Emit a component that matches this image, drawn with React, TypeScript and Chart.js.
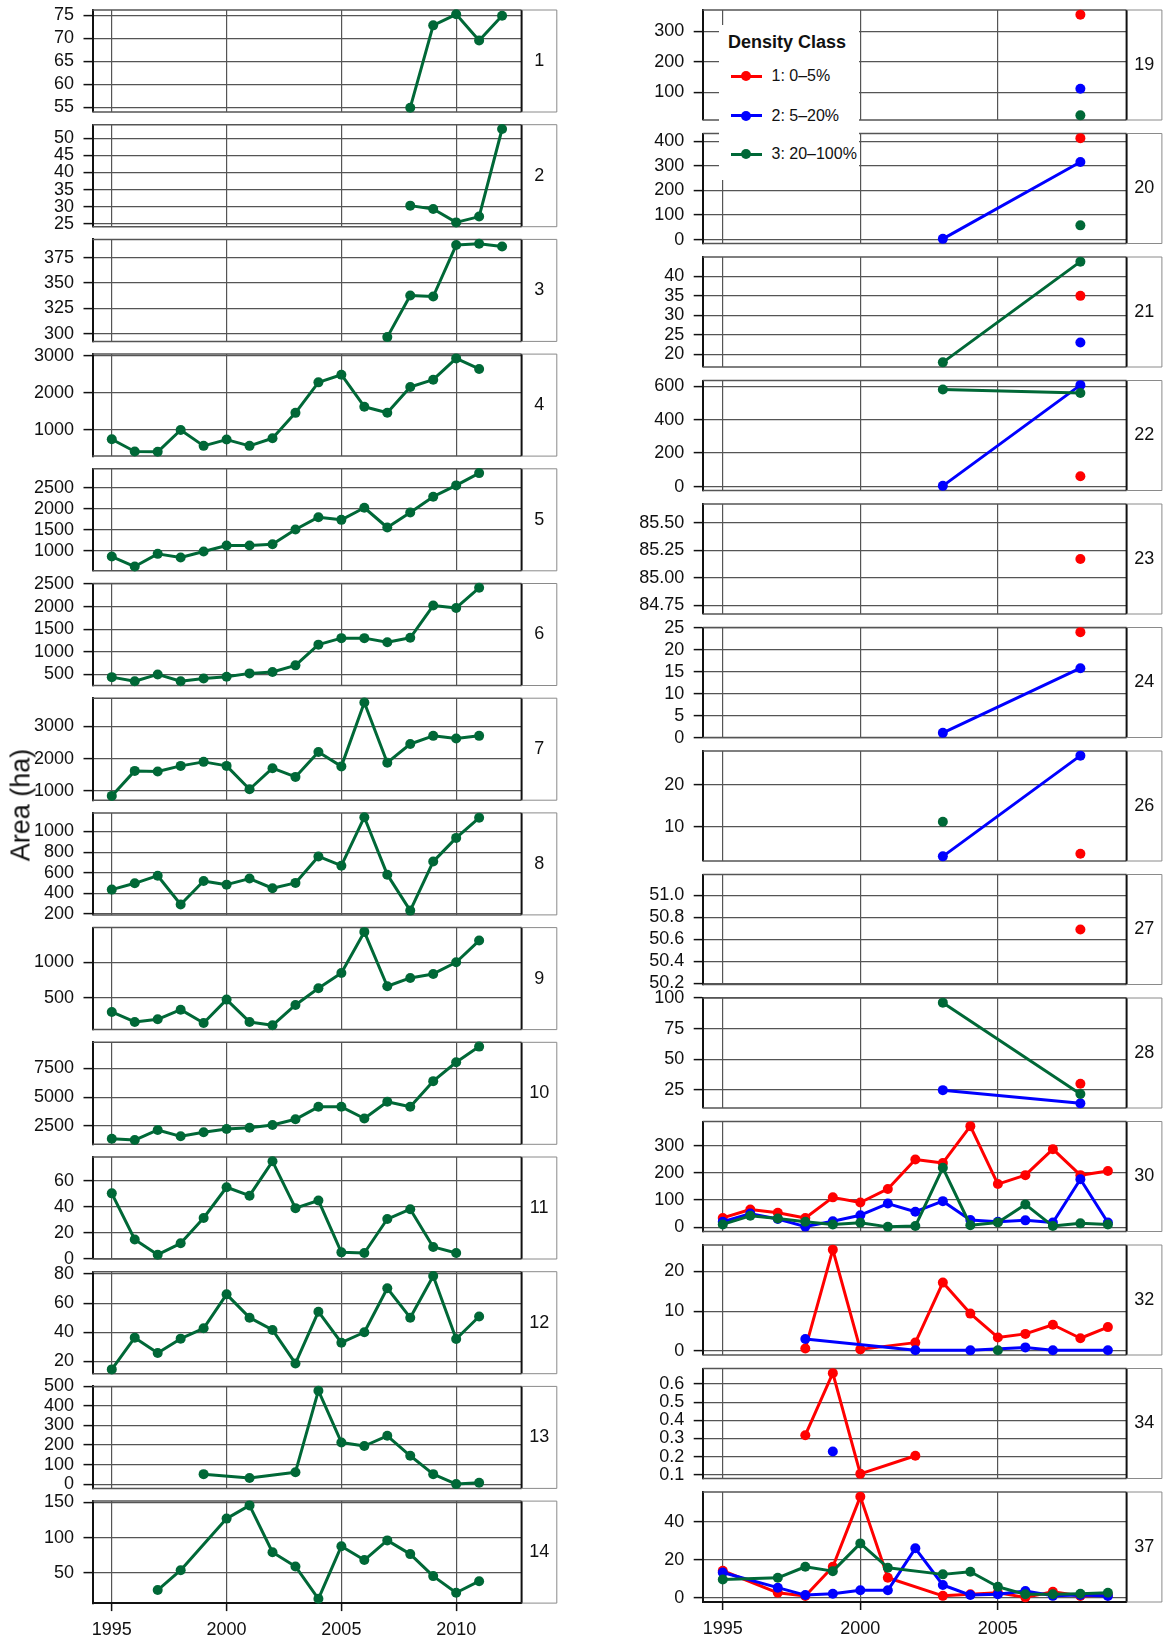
import React, { useEffect, useRef } from "react";
import { Chart, registerables } from "chart.js";

Chart.register(...registerables);

const FONT = "'Liberation Sans', Arial, Helvetica, sans-serif";
const RED = "#ff0000";
const BLUE = "#0000ff";
const GREEN = "#006837";
const GRID = "#555555";
const INK = "#111111";

const _ = null;

const leftYears = [1995, 1996, 1997, 1998, 1999, 2000, 2001, 2002, 2003, 2004, 2005, 2006, 2007, 2008, 2009, 2010, 2011, 2012];
const rightYears = [1995, 1996, 1997, 1998, 1999, 2000, 2001, 2002, 2003, 2004, 2005, 2006, 2007, 2008, 2009];
const leftXTicks = [1995, 2000, 2005, 2010];
const rightXTicks = [1995, 2000, 2005];
const classNames = ["1: 0\u20135%", "2: 5\u201320%", "3: 20\u2013100%"];
const classColors = [RED, BLUE, GREEN];
const yTitle = "Area (ha)";
const legendTitle = "Density Class";

// ---- left column (class 3 only), one value per leftYears entry ----
const s1 = [_, _, _, _, _, _, _, _, _, _, _, _, _, 54.9, 72.8, 75.2, 69.5, 74.9];
const s2 = [_, _, _, _, _, _, _, _, _, _, _, _, _, 30.3, 29.3, 25.4, 27.1, 52.7];
const s3 = [_, _, _, _, _, _, _, _, _, _, _, _, 296.7, 337.7, 336.7, 387.4, 388.7, 386.0];
const s4 = [751, 422, 413, 1000, 573, 742, 573, 778, 1462, 2284, 2489, 1627, 1467, 2160, 2356, 2929, 2644, _];
const s5 = [866, 629, 929, 842, 984, 1126, 1126, 1158, 1508, 1800, 1737, 2024, 1555, 1910, 2287, 2555, 2847, _];
const s6 = [440, 350, 500, 350, 410, 447, 523, 553, 700, 1158, 1302, 1302, 1211, 1309, 2023, 1970, 2415, _];
const s7 = [845, 1622, 1601, 1777, 1902, 1777, 1052, 1705, 1435, 2207, 1762, 3746, 1876, 2456, 2710, 2627, 2710, _];
const s8 = [436, 497, 571, 291, 520, 484, 543, 449, 501, 758, 668, 1139, 581, 232, 708, 938, 1133, _];
const s9 = [304, 164, 201, 336, 150, 477, 164, 117, 402, 636, 850, 1425, 664, 780, 836, 1000, 1304, _];
const s10 = [1402, 1286, 2153, 1604, 1951, 2240, 2355, 2587, 3078, 4162, 4162, 3150, 4595, 4162, 6387, 8020, 9379, _];
const s11 = [50.4, 14.8, 3.1, 11.9, 31.4, 55.1, 48.6, 75.1, 39.0, 44.9, 4.9, 4.4, 30.6, 38.2, 9.1, 4.4, _, _];
const s12 = [14.5, 36.3, 25.8, 35.6, 42.7, 66.0, 50.0, 41.6, 18.6, 54.1, 32.8, 40.0, 70.2, 50.0, 78.6, 35.4, 50.8, _];
const s13 = [_, _, _, _, 51, _, 31, _, 61, 478, 213, 195, 247, 145, 51, 0, 7, _];
const s14 = [_, _, 26, 54, _, 127, 145.7, 79.4, 59.3, 13.6, 88, 68.4, 96.2, 76.8, 45.7, 22.2, 38.5, _];

// ---- right column, one value per rightYears entry (red / blue / green) ----
const r19 = [_, _, _, _, _, _, _, _, _, _, _, _, _, 354, _];
const b19 = [_, _, _, _, _, _, _, _, _, _, _, _, _, 111, _];
const g19 = [_, _, _, _, _, _, _, _, _, _, _, _, _, 24, _];
const r20 = [_, _, _, _, _, _, _, _, _, _, _, _, _, 413, _];
const b20 = [_, _, _, _, _, _, _, _, 3, _, _, _, _, 316, _];
const g20 = [_, _, _, _, _, _, _, _, _, _, _, _, _, 58, _];
const r21 = [_, _, _, _, _, _, _, _, _, _, _, _, _, 35, _];
const b21 = [_, _, _, _, _, _, _, _, _, _, _, _, _, 23, _];
const g21 = [_, _, _, _, _, _, _, _, 17.9, _, _, _, _, 43.8, _];
const r22 = [_, _, _, _, _, _, _, _, _, _, _, _, _, 62, _];
const b22 = [_, _, _, _, _, _, _, _, 4, _, _, _, _, 606, _];
const g22 = [_, _, _, _, _, _, _, _, 580, _, _, _, _, 559, _];
const r23 = [_, _, _, _, _, _, _, _, _, _, _, _, _, 85.17, _];
const r24 = [_, _, _, _, _, _, _, _, _, _, _, _, _, 24.0, _];
const b24 = [_, _, _, _, _, _, _, _, 1.1, _, _, _, _, 15.8, _];
const r26 = [_, _, _, _, _, _, _, _, _, _, _, _, _, 3.6, _];
const b26 = [_, _, _, _, _, _, _, _, 3.0, _, _, _, _, 26.85, _];
const g26 = [_, _, _, _, _, _, _, _, 11.2, _, _, _, _, _, _];
const r27 = [_, _, _, _, _, _, _, _, _, _, _, _, _, 50.69, _];
const r28 = [_, _, _, _, _, _, _, _, _, _, _, _, _, 29.9, _];
const b28 = [_, _, _, _, _, _, _, _, 24.7, _, _, _, _, 13.9, _];
const g28 = [_, _, _, _, _, _, _, _, 96.2, _, _, _, _, 21.5, _];
const r30 = [34, 65, 53, 34, 110, 91, 141, 250, 237, 373, 159, 192, 288, 192, 207];
const b30 = [20, 50, 30, 2, 22, 44, 87, 57, 96, 26, 20, 25, 17, 177, 17];
const g30 = [10, 42, 32, 20, 10, 16, 1, 4, 219, 7, 17, 84, 4, 14, 10];
const r32 = [_, _, _, 0.6, 25.5, 0.4, _, 2.1, 17.2, 9.4, 3.4, 4.3, 6.6, 3.2, 6.0];
const b32 = [_, _, _, 3.0, _, _, _, 0.2, _, 0.15, _, 0.9, 0.2, _, 0.2];
const g32 = [_, _, _, _, _, _, _, _, _, _, 0.2, _, _, _, _];
const r34 = [_, _, _, 0.318, 0.66, 0.105, _, 0.205, _, _, _, _, _, _, _];
const b34 = [_, _, _, _, 0.228, _, _, _, _, _, _, _, _, _, _];
const r37 = [14.2, _, 2.6, 0.9, 16.3, 53.2, 10.5, _, 1.0, 1.8, 2.6, 0.2, 3.2, 0.9, 1.4];
const b37 = [13.3, _, 5.3, 1.4, 2.1, 3.9, 3.9, 26, 6.7, 1.4, 1.8, 3.5, 1.0, 1.4, 0.9];
const g37 = [9.6, _, 10.5, 16.3, 14.0, 28.6, 15.8, _, 12.3, 13.7, 5.8, 1.8, 1.8, 2.1, 2.6];

// ---- y tick values ----
const t1 = [55, 60, 65, 70, 75];
const t2 = [25, 30, 35, 40, 45, 50];
const t3 = [300, 325, 350, 375];
const t4 = [1000, 2000, 3000];
const t5 = [1000, 1500, 2000, 2500];
const t6 = [500, 1000, 1500, 2000, 2500];
const t7 = [1000, 2000, 3000];
const t8 = [200, 400, 600, 800, 1000];
const t9 = [500, 1000];
const t10 = [2500, 5000, 7500];
const t11 = [0, 20, 40, 60];
const t12 = [20, 40, 60, 80];
const t13 = [0, 100, 200, 300, 400, 500];
const t14 = [50, 100, 150];
const t19 = [100, 200, 300];
const t20 = [0, 100, 200, 300, 400];
const t21 = [20, 25, 30, 35, 40];
const t22 = [0, 200, 400, 600];
const t23 = [84.75, 85.0, 85.25, 85.5];
const t24 = [0, 5, 10, 15, 20, 25];
const t26 = [10, 20];
const t27 = [50.2, 50.4, 50.6, 50.8, 51.0];
const t28 = [25, 50, 75, 100];
const t30 = [0, 100, 200, 300];
const t32 = [0, 10, 20];
const t34 = [0.1, 0.2, 0.3, 0.4, 0.5, 0.6];
const t37 = [0, 20, 40];

type Series = (number | null)[] | null;
type Spec = { label: string; series: Series[]; ticks: number[]; dec: number };

const leftPanels: Spec[] = [
  { label: "1", series: [_, _, s1], ticks: t1, dec: 0 },
  { label: "2", series: [_, _, s2], ticks: t2, dec: 0 },
  { label: "3", series: [_, _, s3], ticks: t3, dec: 0 },
  { label: "4", series: [_, _, s4], ticks: t4, dec: 0 },
  { label: "5", series: [_, _, s5], ticks: t5, dec: 0 },
  { label: "6", series: [_, _, s6], ticks: t6, dec: 0 },
  { label: "7", series: [_, _, s7], ticks: t7, dec: 0 },
  { label: "8", series: [_, _, s8], ticks: t8, dec: 0 },
  { label: "9", series: [_, _, s9], ticks: t9, dec: 0 },
  { label: "10", series: [_, _, s10], ticks: t10, dec: 0 },
  { label: "11", series: [_, _, s11], ticks: t11, dec: 0 },
  { label: "12", series: [_, _, s12], ticks: t12, dec: 0 },
  { label: "13", series: [_, _, s13], ticks: t13, dec: 0 },
  { label: "14", series: [_, _, s14], ticks: t14, dec: 0 },
];

const rightPanels: Spec[] = [
  { label: "19", series: [r19, b19, g19], ticks: t19, dec: 0 },
  { label: "20", series: [r20, b20, g20], ticks: t20, dec: 0 },
  { label: "21", series: [r21, b21, g21], ticks: t21, dec: 0 },
  { label: "22", series: [r22, b22, g22], ticks: t22, dec: 0 },
  { label: "23", series: [r23, _, _], ticks: t23, dec: 2 },
  { label: "24", series: [r24, b24, _], ticks: t24, dec: 0 },
  { label: "26", series: [r26, b26, g26], ticks: t26, dec: 0 },
  { label: "27", series: [r27, _, _], ticks: t27, dec: 1 },
  { label: "28", series: [r28, b28, g28], ticks: t28, dec: 0 },
  { label: "30", series: [r30, b30, g30], ticks: t30, dec: 0 },
  { label: "32", series: [r32, b32, g32], ticks: t32, dec: 0 },
  { label: "34", series: [r34, b34, _], ticks: t34, dec: 1 },
  { label: "37", series: [r37, b37, g37], ticks: t37, dec: 0 },
];

type Geo = {
  years: number[];
  xTicks: number[];
  xMin: number;
  xMax: number;
  top0: number;
  pitch: number;
  h: number;
  canvasLeft: number;
  canvasW: number;
  plotLeft: number;
  plotRight: number;
  stripRight: number;
};

const LEFT: Geo = {
  years: leftYears,
  xTicks: leftXTicks,
  xMin: 1994.16,
  xMax: 2012.85,
  top0: 10,
  pitch: 114.7,
  h: 102,
  canvasLeft: 0,
  canvasW: 562,
  plotLeft: 92.5,
  plotRight: 521.6,
  stripRight: 556.8,
};

const RIGHT: Geo = {
  years: rightYears,
  xTicks: rightXTicks,
  xMin: 1994.27,
  xMax: 2009.68,
  top0: 10,
  pitch: 123.5,
  h: 110,
  canvasLeft: 600,
  canvasW: 563,
  plotLeft: 702.7,
  plotRight: 1126.6,
  stripRight: 1161.9,
};

const TICK_FONT = 18;
const MARGIN = 26;

function yRange(series: Series[]): [number, number] {
  const vals: number[] = [];
  series.forEach((s) => s && s.forEach((v) => v != null && vals.push(v)));
  const lo = Math.min(...vals);
  const hi = Math.max(...vals);
  if (hi - lo < 1e-9) return [lo - 0.5, hi + 0.5];
  const pad = (hi - lo) * 0.046;
  return [lo - pad, hi + pad];
}

function PanelChart({ spec, geo, index, bottom }: { spec: Spec; geo: Geo; index: number; bottom: boolean }) {
  const ref = useRef<HTMLCanvasElement>(null);
  const panelTop = geo.top0 + geo.pitch * index;
  const canvasTop = Math.floor(panelTop - MARGIN);
  const padTop = panelTop - canvasTop;
  const xAxisH = bottom ? 34 : 0;
  const canvasH = Math.ceil(padTop + geo.h + (bottom ? 34 : MARGIN));
  const padBottom = canvasH - padTop - geo.h - xAxisH;
  const W = geo.canvasW;

  useEffect(() => {
    if (!ref.current) return;
    const [yMin, yMax] = yRange(spec.series);
    const tol = (yMax - yMin) * 0.012;
    const yW = geo.plotLeft - geo.canvasLeft;
    const rightPad = W - (geo.plotRight - geo.canvasLeft);
    const stripW = geo.stripRight - geo.plotRight;

    const datasets: any[] = [];
    spec.series.forEach((s, k) => {
      if (!s) return;
      const pts = geo.years
        .map((yr, i) => ({ x: yr, y: s[i] }))
        .filter((p) => p.y != null);
      if (!pts.length) return;
      datasets.push({
        label: classNames[k],
        data: pts,
        borderColor: classColors[k],
        backgroundColor: classColors[k],
        pointBackgroundColor: classColors[k],
        pointBorderColor: classColors[k],
        borderWidth: 3,
        pointRadius: 5,
        pointHoverRadius: 5,
        pointBorderWidth: 0,
        borderJoinStyle: "round",
        borderCapStyle: "round",
        tension: 0,
        clip: false,
        order: 3 - k,
      });
    });

    const framePlugin = {
      id: "frame",
      beforeDatasetsDraw(chart: any) {
        const { ctx, chartArea: a } = chart;
        ctx.save();
        ctx.strokeStyle = GRID;
        ctx.lineWidth = 1.5;
        ctx.beginPath();
        ctx.moveTo(a.left, a.top);
        ctx.lineTo(a.right, a.top);
        if (!bottom) {
          ctx.moveTo(a.left, a.bottom);
          ctx.lineTo(a.right, a.bottom);
        }
        ctx.stroke();
        ctx.strokeStyle = INK;
        ctx.lineWidth = 2;
        ctx.beginPath();
        ctx.moveTo(a.right, a.top);
        ctx.lineTo(a.right, a.bottom);
        ctx.stroke();
        ctx.restore();
      },
      afterDraw(chart: any) {
        const { ctx, chartArea: a } = chart;
        ctx.save();
        ctx.strokeStyle = "#8a8a8a";
        ctx.lineWidth = 1;
        ctx.beginPath();
        ctx.moveTo(a.right, a.top);
        ctx.lineTo(a.right + stripW, a.top);
        ctx.lineTo(a.right + stripW, a.bottom);
        ctx.lineTo(a.right, a.bottom);
        ctx.stroke();
        ctx.fillStyle = INK;
        ctx.font = `${TICK_FONT}px ${FONT}`;
        ctx.textAlign = "center";
        ctx.textBaseline = "middle";
        ctx.fillText(spec.label, a.right + stripW / 2, (a.top + a.bottom) / 2);
        ctx.restore();
      },
    };

    const chart = new Chart(ref.current, {
      type: "line",
      data: { datasets },
      plugins: [framePlugin],
      options: {
        responsive: false,
        maintainAspectRatio: false,
        animation: false,
        devicePixelRatio: 1,
        events: [],
        layout: { padding: { top: padTop, bottom: padBottom, left: 0, right: rightPad } },
        plugins: { legend: { display: false }, tooltip: { enabled: false }, title: { display: false } },
        scales: {
          x: {
            type: "linear",
            min: geo.xMin,
            max: geo.xMax,
            afterBuildTicks: (s: any) => {
              s.ticks = geo.xTicks.map((v) => ({ value: v }));
            },
            afterFit: (s: any) => {
              s.height = xAxisH;
            },
            ticks: {
              display: bottom,
              autoSkip: false,
              maxRotation: 0,
              padding: 8,
              color: INK,
              font: { size: TICK_FONT, family: FONT },
              callback: (v: any) => String(v),
            },
            grid: { color: GRID, lineWidth: 1.2, drawTicks: bottom, tickLength: 8, tickColor: INK, tickWidth: 1.5 },
            border: { display: bottom, color: INK, width: 2 },
          },
          y: {
            type: "linear",
            min: yMin,
            max: yMax,
            afterBuildTicks: (s: any) => {
              s.ticks = spec.ticks
                .filter((v) => v >= yMin - tol && v <= yMax + tol)
                .map((v) => ({ value: v }));
            },
            afterFit: (s: any) => {
              s.width = yW;
            },
            ticks: {
              autoSkip: false,
              padding: 9.5,
              color: INK,
              font: { size: TICK_FONT, family: FONT },
              callback: (v: any) => Number(v).toFixed(spec.dec),
            },
            grid: { color: GRID, lineWidth: 1.2, drawTicks: true, tickLength: 9, tickColor: INK, tickWidth: 1.5 },
            border: { display: true, color: INK, width: 2 },
          },
        },
      } as any,
    });
    return () => chart.destroy();
  }, []);

  return (
    <canvas
      ref={ref}
      width={W}
      height={canvasH}
      style={{ position: "absolute", left: geo.canvasLeft, top: canvasTop, width: W, height: canvasH }}
    />
  );
}

function Legend() {
  const rows = [51, 90.7, 129];
  return (
    <div
      style={{
        position: "absolute",
        left: 719.4,
        top: 25,
        width: 139.5,
        height: 155,
        background: "#ffffff",
        zIndex: 5,
        fontFamily: FONT,
        color: INK,
      }}
    >
      <div
        style={{
          position: "absolute",
          left: 8.6,
          top: 16.7,
          transform: "translateY(-50%)",
          fontWeight: "bold",
          fontSize: 18,
          lineHeight: 1,
          whiteSpace: "nowrap",
        }}
      >
        {legendTitle}
      </div>
      {classNames.map((n, i) => (
        <React.Fragment key={n}>
          <div style={{ position: "absolute", left: 11.2, width: 31.6, top: rows[i] - 1.5, height: 3, background: classColors[i] }} />
          <div
            style={{
              position: "absolute",
              left: 27 - 5,
              top: rows[i] - 5,
              width: 10,
              height: 10,
              borderRadius: "50%",
              background: classColors[i],
            }}
          />
          <div
            style={{
              position: "absolute",
              left: 52.1,
              top: rows[i],
              transform: "translateY(-50%)",
              fontSize: 16,
              lineHeight: 1,
              whiteSpace: "nowrap",
            }}
          >
            {n}
          </div>
        </React.Fragment>
      ))}
    </div>
  );
}

export default function App() {
  Chart.defaults.font.family = FONT;
  Chart.defaults.color = INK;
  return (
    <div
      style={{
        position: "absolute",
        left: 0,
        top: 0,
        width: 1163,
        height: 1638,
        overflow: "hidden",
        background: "#ffffff",
        fontFamily: FONT,
      }}
    >
      {leftPanels.map((p, i) => (
        <PanelChart key={"L" + p.label} spec={p} geo={LEFT} index={i} bottom={i === leftPanels.length - 1} />
      ))}
      {rightPanels.map((p, i) => (
        <PanelChart key={"R" + p.label} spec={p} geo={RIGHT} index={i} bottom={i === rightPanels.length - 1} />
      ))}
      <div
        style={{
          position: "absolute",
          left: 21,
          top: 805,
          transform: "translate(-50%, -50%) rotate(-90deg)",
          fontSize: 27,
          lineHeight: 1,
          whiteSpace: "nowrap",
          color: INK,
          zIndex: 4,
        }}
      >
        {yTitle}
      </div>
      <Legend />
    </div>
  );
}
